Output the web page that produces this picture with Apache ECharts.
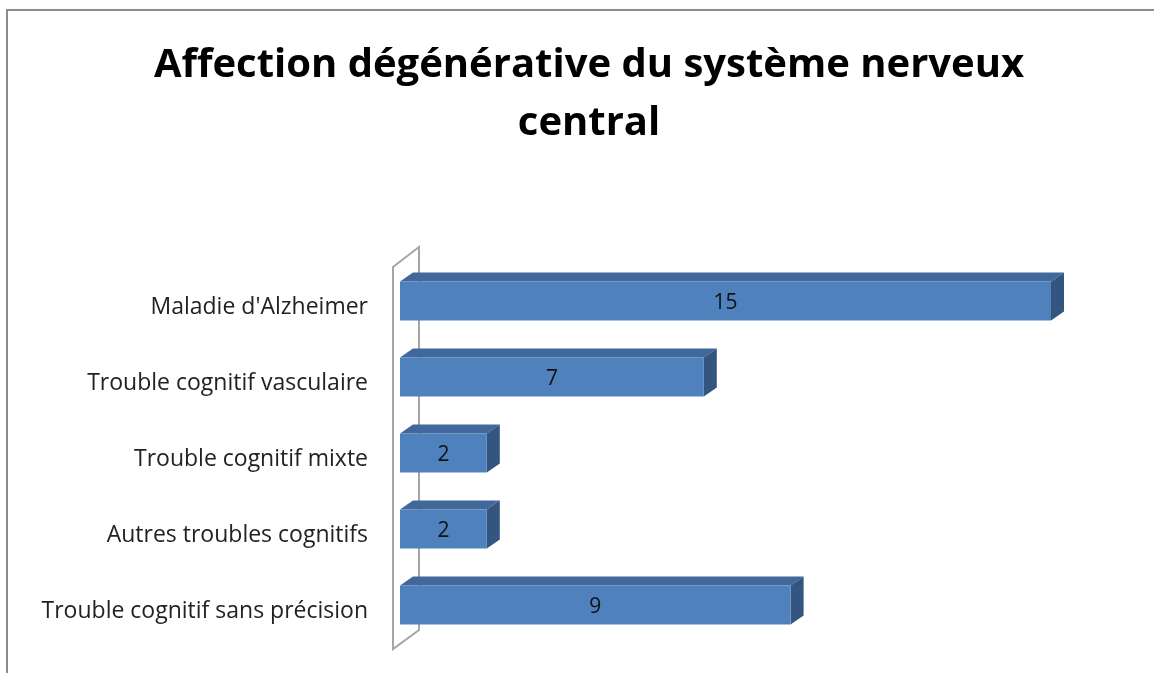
<!DOCTYPE html>
<html>
<head>
<meta charset="utf-8">
<script src="https://cdn.jsdelivr.net/npm/echarts@6/dist/echarts.min.js"></script>
<style>
  html, body { margin: 0; padding: 0; background: #fff; }
  #chart { width: 1154px; height: 673px; }
</style>
</head>
<body>
<div id="chart"></div>
<script>
// données
const categories = [
  "Maladie d'Alzheimer",
  'Trouble cognitif vasculaire',
  'Trouble cognitif mixte',
  'Autres troubles cognitifs',
  'Trouble cognitif sans précision'
];
const values = [15, 7, 2, 2, 9];

const chart = echarts.init(document.getElementById('chart'));

// barre "3D" façon Excel : face avant, dessus, côté droit
function renderBar(params, api) {
  const end = api.coord([api.value(0), api.value(1)]);
  const start = api.coord([0, api.value(1)]);
  const band = api.size([0, 1])[1];
  const h = band * 0.51;
  const x0 = start[0], x1 = end[0];
  const y0 = end[1] - h / 2, y1 = end[1] + h / 2;
  const dx = 13, dy = -9;
  return {
    type: 'group',
    children: [
      {
        type: 'polygon',
        shape: { points: [[x0, y0], [x0 + dx, y0 + dy], [x1 + dx, y0 + dy], [x1, y0]] },
        style: { fill: '#40689A' }
      },
      {
        type: 'polygon',
        shape: { points: [[x1, y0], [x1 + dx, y0 + dy], [x1 + dx, y1 + dy], [x1, y1]] },
        style: { fill: '#34557F' }
      },
      {
        type: 'rect',
        shape: { x: x0, y: y0, width: x1 - x0, height: h },
        style: { fill: '#4F81BD' }
      },
      {
        type: 'text',
        style: {
          x: (x0 + x1) / 2, y: end[1] + 2,
          text: String(api.value(0)),
          align: 'center', verticalAlign: 'middle',
          fill: '#111', fontSize: 21, fontFamily: 'Open Sans'
        }
      }
    ]
  };
}

// paroi latérale gauche
function renderWall(params, api) {
  const cs = params.coordSys;
  const fx = cs.x - 7, bx = cs.x + 19;
  const top = cs.y, bot = cs.y + cs.height;
  return {
    type: 'polygon',
    shape: { points: [[fx, top + 4], [bx, top - 16], [bx, bot - 13], [fx, bot + 6]] },
    style: { fill: '#fff', stroke: '#a6a6a6', lineWidth: 2 }
  };
}

chart.setOption({
  backgroundColor: '#fff',
  animation: false,
  title: {
    text: 'Affection dégénérative du système nerveux\ncentral',
    left: 584,
    textAlign: 'center',
    top: 32,
    textStyle: {
      fontFamily: 'Open Sans',
      fontWeight: 'bold',
      fontSize: 40,
      lineHeight: 58,
      color: '#000'
    }
  },
  graphic: [{
    type: 'rect',
    shape: { x: 7, y: 10, width: 1200, height: 700 },
    style: { fill: null, stroke: '#8c8c8c', lineWidth: 2 },
    silent: true
  }],
  grid: { left: 400, top: 263, width: 651, height: 380 },
  xAxis: {
    type: 'value', min: 0, max: 15,
    show: false
  },
  yAxis: {
    type: 'category',
    data: categories,
    inverse: true,
    axisLine: { show: false },
    axisTick: { show: false },
    axisLabel: {
      margin: 32,
      formatter: v => '{c|' + v + '}',
      rich: {
        c: {
          padding: [12, 0, 0, 0],
          fontFamily: 'Open Sans',
          fontSize: 23,
          color: '#222'
        }
      }
    }
  },
  series: [
    {
      type: 'custom',
      renderItem: renderWall,
      data: [[0, 0]],
      z: 1,
      silent: true
    },
    {
      type: 'custom',
      renderItem: renderBar,
      encode: { x: 0, y: 1 },
      data: values.map((v, i) => [v, i]),
      z: 2
    }
  ]
});
</script>
</body>
</html>
